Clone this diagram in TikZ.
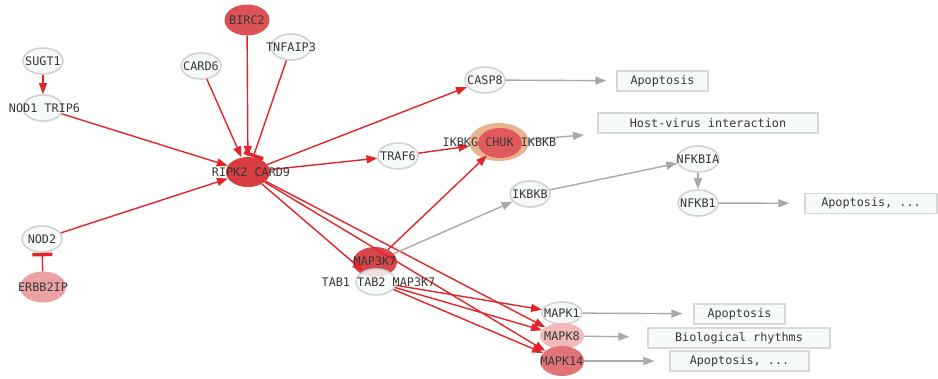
\documentclass[tikz,border=0pt]{standalone}
\usepackage{fontspec}
\setmonofont{DejaVu Sans Mono}
\usetikzlibrary{arrows.meta,shapes.geometric}
\definecolor{edgered}{HTML}{E3242B}
\definecolor{edgegray}{HTML}{A9A9A9}
\definecolor{wfill}{HTML}{F7FAFA}
\definecolor{wdraw}{HTML}{D2D2D2}
\definecolor{bdraw}{HTML}{D8D8D8}
\definecolor{txt}{HTML}{383838}
\definecolor{cRIPK}{HTML}{D73D41}
\definecolor{cBIRC}{HTML}{DC5257}
\definecolor{cMAP}{HTML}{D8454A}
\definecolor{cCHUK}{HTML}{E05A5D}
\definecolor{cHALO}{HTML}{E9B38F}
\definecolor{cERBB}{HTML}{ECA2A4}
\definecolor{cMAPK8}{HTML}{F2B9BA}
\definecolor{cMAPK14}{HTML}{E27477}
\tikzset{
  wnode/.style={ellipse, draw=wdraw, line width=1.6pt, fill=wfill, minimum width=40pt, minimum height=26pt, inner sep=0pt},
  cnode/.style={ellipse, draw=none, minimum width=44pt, minimum height=30pt, inner sep=0pt},
  lbl/.style={font=\ttfamily\fontsize{11.8}{12}\selectfont, text=txt, inner sep=0pt},
  pbox/.style={rectangle, draw=bdraw, line width=1.3pt, fill=wfill, minimum height=20pt, inner sep=0pt, font=\ttfamily\fontsize{11.8}{12}\selectfont, text=txt},
  redarr/.style={draw=edgered, line width=1.4pt, -{Triangle[length=11pt,width=8pt]}},
  grayarr/.style={draw=edgegray, line width=1.4pt, -{Triangle[length=11pt,width=8pt]}},
  redbar/.style={draw=edgered, line width=1.4pt, -{Bar[width=20pt,line width=3.5pt]}}
}
\begin{document}
\begin{tikzpicture}[x=1pt,y=-1pt]
\useasboundingbox (0,0) rectangle (938,378);

% shapes
\node[cnode, fill=cBIRC, minimum width=45pt, minimum height=31pt] (birc2) at (247,20) {};
\node[wnode] (sugt1) at (43,61) {};
\node[wnode] (card6) at (201,66) {};
\node[wnode] (tnfaip3) at (291,47) {};
\node[wnode] (nod1) at (43,108) {};
\node[cnode, fill=cRIPK] (ripk2) at (248,172) {};
\node[wnode] (casp8) at (485,80) {};
\node[wnode] (traf6) at (398,156) {};
\node[cnode, fill=cHALO, minimum width=60pt, minimum height=38pt] (chuk) at (499,142) {};
\node[cnode, fill=cCHUK, minimum width=44pt, minimum height=30pt] (chukin) at (500,143) {};
\node[wnode] (ikbkb) at (530,194) {};
\node[wnode, minimum width=42pt] (nfkbia) at (698,159) {};
\node[wnode] (nfkb1) at (698,203) {};
\node[wnode] (nod2) at (42,239) {};
\node[cnode, fill=cERBB, minimum width=46pt, minimum height=31pt] (erbb2ip) at (43,287) {};
\node[cnode, fill=cMAP] (map3k7) at (375,262) {};
\node[wnode, fill opacity=0.85] (tab) at (376,282) {};
\node[wnode, minimum height=22pt] (mapk1) at (562,313) {};
\node[cnode, fill=cMAPK8, minimum width=44pt, minimum height=26pt] (mapk8) at (562,336) {};
\node[cnode, fill=cMAPK14, minimum width=44pt, minimum height=30pt] (mapk14) at (562,361) {};

% process boxes
\node[pbox, minimum width=91pt] (apo1) at (662.5,81) {Apoptosis};
\node[pbox, minimum width=220pt] (hostv) at (708,123) {Host-virus interaction};
\node[pbox, minimum width=132pt] (apo2) at (871,203.5) {Apoptosis, ...};
\node[pbox, minimum width=91pt] (apo3) at (739.5,314) {Apoptosis};
\node[pbox, minimum width=182pt] (bior) at (739,338) {Biological rhythms};
\node[pbox, minimum width=139pt] (apo4) at (739.5,361) {Apoptosis, ...};
\coordinate (hvend) at (584,135);

% red edges
\draw[redarr] (sugt1) -- (nod1);
\draw[redarr] (nod1) -- (ripk2);
\draw[redarr] (card6) -- (ripk2);
\draw[redarr] (birc2) -- (ripk2);
\draw[redbar] (tnfaip3) -- (ripk2);
\draw[redarr] (nod2) -- (ripk2);
\draw[redbar] (erbb2ip) -- (nod2);
\draw[redarr] (ripk2) -- (casp8);
\draw[redarr] (ripk2) -- (traf6);
\draw[redarr] (traf6) -- (chuk);
\draw[redarr] (ripk2) -- (tab);
\draw[redarr] (ripk2) -- (mapk8);
\draw[redarr] (ripk2) -- (mapk14);
\draw[redarr] (map3k7) -- (chukin);
\draw[redarr] (tab) -- (mapk1);
\draw[redarr] (tab) -- (mapk8);
\draw[redarr] (tab) -- (mapk14);

% gray edges
\draw[grayarr] (map3k7) -- (ikbkb);
\draw[grayarr] (ikbkb) -- (nfkbia);
\draw[grayarr] (nfkbia) -- (nfkb1);
\draw[grayarr, shorten >=15pt] (nfkb1) -- (apo2);
\draw[grayarr, shorten >=10pt] (casp8) -- (apo1);
\draw[grayarr] (chuk) -- (hvend);
\draw[grayarr, shorten >=11pt] (mapk1) -- (apo3);
\draw[grayarr, shorten >=18pt] (mapk8) -- (bior);
\draw[grayarr, shorten >=15pt] (mapk14) -- (apo4);

% labels
\node[lbl] (birc2t) at (birc2) {BIRC2};
\node[lbl] (sugt1t) at (sugt1) {SUGT1};
\node[lbl] (card6t) at (card6) {CARD6};
\node[lbl] (tnfaip3t) at (tnfaip3) {TNFAIP3};
\node[lbl] (nod1t) at (44.5,108) {NOD1 TRIP6};
\node[lbl] (ripk2t) at (251,172) {RIPK2 CARD9};
\node[lbl] (casp8t) at (casp8) {CASP8};
\node[lbl] (traf6t) at (traf6) {TRAF6};
\node[lbl] (chukt) at (499.5,142) {IKBKG CHUK IKBKB};
\node[lbl] (ikbkbt) at (ikbkb) {IKBKB};
\node[lbl] (nfkbiat) at (nfkbia) {NFKBIA};
\node[lbl] (nfkb1t) at (nfkb1) {NFKB1};
\node[lbl] (nod2t) at (nod2) {NOD2};
\node[lbl] (erbb2ipt) at (erbb2ip) {ERBB2IP};
\node[lbl] (map3k7t) at (375,261) {MAP3K7};
\node[lbl] (tabt) at (378.5,282) {TAB1 TAB2 MAP3K7};
\node[lbl] (mapk1t) at (mapk1) {MAPK1};
\node[lbl] (mapk8t) at (mapk8) {MAPK8};
\node[lbl] (mapk14t) at (mapk14) {MAPK14};
\end{tikzpicture}
\end{document}
